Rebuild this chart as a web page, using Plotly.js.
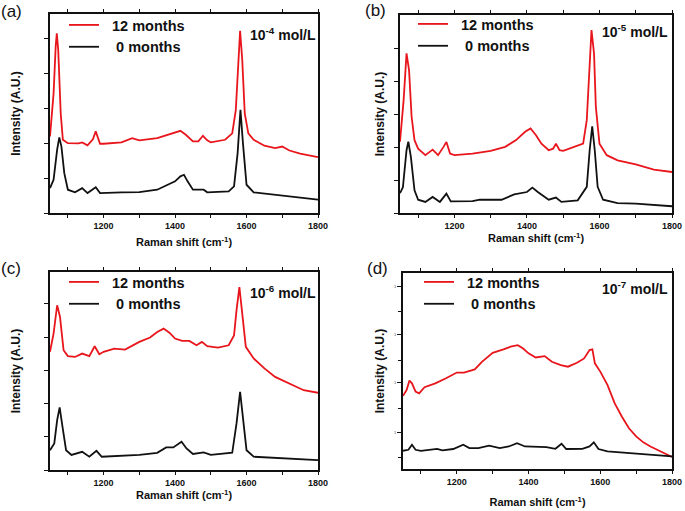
<!DOCTYPE html>
<html>
<head>
<meta charset="utf-8">
<script src="https://cdn.plot.ly/plotly-3.0.1.min.js"></script>
<style>html,body{margin:0;padding:0;background:#fff;}#chart{width:685px;height:511px;}</style>
</head>
<body>
<div id="chart"></div>
<script>
// ---------- DATA (intensity in arbitrary units) ----------
// Panel (a) 10^-4 mol/L
const shiftA12 = [1050,1060,1066,1069,1073,1080,1086,1100,1130,1140,1155,1170,1178,1190,1200,1250,1280,1300,1350,1400,1415,1430,1450,1465,1478,1490,1500,1540,1560,1570,1576,1582,1588,1595,1605,1620,1650,1680,1700,1720,1750,1800];
const intA12   = [38.5,60,84,90.3,82,50,36.8,35.1,35,35.5,34,37,41,34.8,34.8,35.5,37.6,36.5,37.6,40.5,41.3,39.3,36,36,38.8,36.5,35.5,36.8,40,51.8,73.6,91.6,77,50,40,36.8,33.8,32.6,33.4,31.4,29.8,28.1];
const shiftA0  = [1050,1060,1070,1076,1082,1090,1100,1120,1140,1155,1178,1190,1250,1300,1350,1380,1400,1415,1425,1435,1450,1480,1490,1550,1565,1575,1583,1590,1600,1620,1700,1800];
const intA0    = [12.5,16.7,31.8,38,33.4,20,11.7,10.4,12.5,10,12.9,10,10.4,10.5,11.7,14.2,15.9,18.4,19.2,15.9,11.7,11.7,10.4,10.9,13.4,30,51.8,35,14.2,10.4,8.7,6.7];

// Panel (b) 10^-5 mol/L
const shiftB12 = [1050,1060,1068,1075,1082,1090,1100,1120,1140,1155,1170,1178,1188,1200,1250,1300,1340,1370,1395,1410,1425,1440,1460,1472,1480,1490,1500,1530,1555,1565,1572,1578,1585,1590,1600,1620,1650,1700,1750,1800];
const intB12   = [36,57,80.6,72,48.6,36.8,32.5,29.2,32,29.2,33.4,35.9,30,29.2,30,31.4,33.4,36.8,41,42.7,39.3,35,31.7,32.5,35,31.7,31.4,33.4,35,46.9,73.9,92.4,80.6,53.6,35,29.2,26.6,24.6,21.9,20.7];
const shiftB0  = [1050,1058,1068,1073,1080,1090,1100,1120,1140,1160,1178,1190,1250,1270,1330,1365,1400,1415,1430,1460,1480,1495,1540,1565,1573,1580,1587,1595,1610,1650,1700,1800];
const intB0    = [10,13,31.7,36,28.3,11.5,6.7,5.6,8.1,5.6,9.8,5.9,6,6.7,6.7,9.4,10.6,12.8,10.6,6.7,7.8,5.6,6.4,13.2,31.7,43.8,31.7,13.2,6.7,5,4.7,3.4];

// Panel (c) 10^-6 mol/L
const shiftC12 = [1050,1060,1070,1078,1088,1100,1120,1140,1160,1175,1188,1200,1230,1260,1300,1330,1350,1368,1385,1400,1420,1440,1460,1475,1490,1520,1550,1565,1572,1580,1588,1598,1620,1650,1680,1700,1730,1760,1800];
const intC12   = [59.7,68.9,83.2,77.3,60.5,57.5,57.1,58.8,57.5,62.5,58.5,59.7,61.3,60.8,64.7,66.9,69.7,71.4,69.2,66.4,65.2,65.2,63,64.7,62.5,61.8,63,68,80.7,92.4,79,62.2,56.3,51.3,47,45.4,42.9,40.3,39];
const shiftC0  = [1050,1062,1070,1077,1085,1095,1110,1140,1160,1180,1195,1250,1300,1350,1375,1395,1418,1432,1450,1480,1500,1560,1572,1582,1590,1600,1620,1700,1800];
const intC0    = [10,13.4,25.2,31.6,21.8,10,7.6,9.2,6.7,9.7,6.7,7.2,7.6,8.7,11.4,11.4,14.3,10.9,8.1,8.9,7.6,8.7,23.5,39.5,26.9,10,6.7,5.9,5];

// Panel (d) 10^-7 mol/L
const shiftD12 = [1050,1060,1068,1075,1085,1095,1110,1140,1170,1200,1220,1250,1270,1300,1330,1350,1370,1385,1400,1420,1445,1465,1490,1510,1535,1555,1570,1578,1585,1600,1620,1640,1660,1680,1700,1720,1740,1760,1780,1800];
const intD12   = [37.3,40.3,45.1,43.7,39.5,38.6,41.7,43.7,46.3,49.2,49.2,50.8,54.7,59.3,61,62.4,63.2,61.5,59,56.9,57.6,54.7,53,52.2,54.2,56.4,60.7,61,53.9,49.7,42.9,33.6,26.8,20.8,16.6,13.6,11.5,9.8,8.1,6.1];
const shiftD0  = [1050,1065,1075,1085,1100,1145,1160,1190,1218,1235,1260,1290,1320,1345,1368,1390,1450,1475,1492,1505,1550,1570,1582,1595,1620,1700,1800];
const intD0    = [9.3,9.8,12.4,9.8,9.3,10.3,9.5,10.2,12.4,10.7,10.7,11.9,10.7,11.5,13.2,11.5,11.2,10.3,12.9,10.2,10.3,11.5,13.6,10.2,9,7.8,6.4];

// ticks / text
const xMajorTicks = [1200,1400,1600,1800];
const xMinorTicks = [1100,1300,1500,1700];
const yTicksA = [0,17.5,35,52.5,70,87.5];
const yTicksB = [0,16.6,33.3,50,66.6,83.2];
const yTicksC = [0,16.8,33.4,50.2,67,84];
const yMajorD = [18.5,43.9,68.4,93];
const yMinorD = [6.1,31.1,55.6,80.3];
const yTextD  = ['1','1','1','1'];
const seriesNames = ['12 months','0 months'];
const panelLabels = ['(a)','(b)','(c)','(d)'];
const concLabels  = ['10<sup>-4</sup> mol/L','10<sup>-5</sup> mol/L','10<sup>-6</sup> mol/L','10<sup>-7</sup> mol/L'];
const xTitle = 'Raman shift (cm<sup>-1</sup>)';
const yTitle = 'Intensity (A.U.)';

// ---------- LAYOUT ----------
const W = 685, H = 511;
const px = v => v / W, py = v => 1 - v / H;
const RED = '#e8161c', BLK = '#111111';
const FONT = 'Liberation Sans, Arial, sans-serif';
const boxes = [ // [left, right, top, bottom] in pixels
  [50, 318, 14, 213],
  [400, 672, 15, 213],
  [50, 318, 272, 470],
  [403, 672, 273, 469]
];
const xs = [[shiftA12,intA12,shiftA0,intA0],[shiftB12,intB12,shiftB0,intB0],[shiftC12,intC12,shiftC0,intC0],[shiftD12,intD12,shiftD0,intD0]];
const yTicks = [yTicksA,yTicksB,yTicksC,yMajorD];
const legendPos = [[64,9],[413,8],[64,266],[419,266]];
const concPos = [[318,34],[670,31],[318,292],[670,288]];
const labelPos = [[11,11],[375,10],[11,268],[377,268]];
const ytStand = [21, 7, 21, 7];
const xtStand = [9, 5, 5, 13];

const traces = [];
const layout = {
  width: W, height: H, margin: {l:0,r:0,t:0,b:0},
  paper_bgcolor: '#fff', plot_bgcolor: '#fff',
  font: {family: FONT, color: '#111'},
  annotations: [], showlegend: true
};

for (let i = 0; i < 4; i++) {
  const n = i === 0 ? '' : String(i + 1);
  const [l, r, t, b] = boxes[i];
  const lg = i === 0 ? 'legend' : 'legend' + (i + 1);
  const d = xs[i];
  traces.push({x: d[0], y: d[1], type: 'scatter', mode: 'lines', name: '\u00a0\u00a0' + seriesNames[0],
    line: {color: RED, width: 1.8}, xaxis: 'x' + n, yaxis: 'y' + n, legend: lg});
  traces.push({x: d[2], y: d[3], type: 'scatter', mode: 'lines', name: '\u00a0\u00a0\u00a0' + seriesNames[1],
    line: {color: BLK, width: 1.8}, xaxis: 'x' + n, yaxis: 'y' + n, legend: lg});

  layout['xaxis' + n] = {
    domain: [px(l), px(r)], anchor: 'y' + n, range: [1050, 1800],
    tickmode: 'array', tickvals: xMajorTicks, ticktext: xMajorTicks.map(String),
    ticks: 'outside', ticklen: 3, tickwidth: 1, tickcolor: '#111',
    minor: {tickmode: 'array', tickvals: xMinorTicks, ticks: 'outside', ticklen: 3, tickwidth: 1, tickcolor: '#111', showgrid: false},
    showline: true, linewidth: 2, linecolor: '#111', mirror: 'allticks',
    showgrid: false, zeroline: false,
    tickfont: {family: FONT, size: 9, weight: 'bold', color: '#111'},
    title: {text: xTitle, font: {family: FONT, size: 11, weight: 'bold', color: '#111'}, standoff: xtStand[i]},
    automargin: false
  };
  const yax = {
    domain: [py(b), py(t)], anchor: 'x' + n, range: [0, 100],
    tickmode: 'array', tickvals: yTicks[i],
    ticks: 'outside', ticklen: 4, tickwidth: 1, tickcolor: '#111',
    showline: true, linewidth: 2, linecolor: '#111', mirror: true,
    showgrid: false, zeroline: false, showticklabels: false,
    title: {text: yTitle, font: {family: FONT, size: 12, weight: 'bold', color: '#111'}, standoff: ytStand[i]},
    automargin: false
  };
  if (i === 3) {
    yax.showticklabels = true;
    yax.ticktext = yTextD;
    yax.tickfont = {family: FONT, size: 4, color: '#444'};
    yax.minor = {tickmode: 'array', tickvals: yMinorD, ticks: 'outside', ticklen: 3, tickwidth: 1, tickcolor: '#111', showgrid: false};
  }
  layout['yaxis' + n] = yax;
  layout[lg] = {
    x: px(legendPos[i][0]), y: py(legendPos[i][1]), xanchor: 'left', yanchor: 'top',
    bgcolor: 'rgba(0,0,0,0)', borderwidth: 0, itemwidth: 30, tracegroupgap: 0,
    font: {family: FONT, size: 14.5, weight: 'bold', color: '#111'}, traceorder: 'normal'
  };
  layout.annotations.push({xref: 'paper', yref: 'paper', x: px(concPos[i][0]), y: py(concPos[i][1]),
    xanchor: 'right', yanchor: 'middle', showarrow: false, text: concLabels[i],
    font: {family: FONT, size: 14, weight: 'bold', color: '#111'}});
  layout.annotations.push({xref: 'paper', yref: 'paper', x: px(labelPos[i][0]), y: py(labelPos[i][1]),
    xanchor: 'center', yanchor: 'middle', showarrow: false, text: panelLabels[i],
    font: {family: FONT, size: 17, color: '#111'}});
}

Plotly.newPlot('chart', traces, layout, {displayModeBar: false, staticPlot: true});
</script>
</body>
</html>
